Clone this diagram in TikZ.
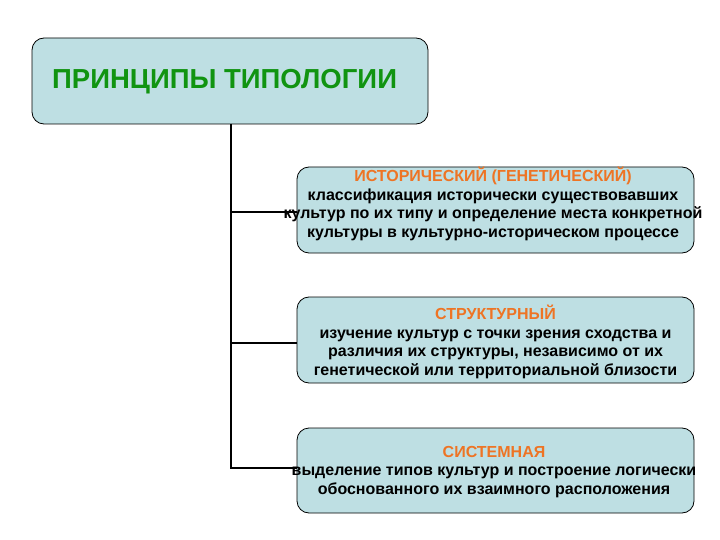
\documentclass[tikz,border=0pt]{standalone}
\usepackage{fontspec}
\setmainfont{Liberation Sans}
\definecolor{boxfill}{HTML}{BEDFE3}
\definecolor{titlegreen}{HTML}{119411}
\definecolor{headorange}{HTML}{EE7424}
\tikzset{
  box/.style={draw=black, line width=0.8pt, fill=boxfill, rounded corners=12pt, inner sep=0pt},
  body/.style={font=\bfseries\fontsize{16}{18.8}\selectfont, align=center, text=black, inner sep=0pt},
  conn/.style={draw=black, line width=2pt}
}
\begin{document}
\begin{tikzpicture}[x=1pt,y=-1pt]
\useasboundingbox (0,0) rectangle (720,540);
\node[box, minimum width=396pt, minimum height=86pt] (top) at (230,81) {};
\node[font=\bfseries\fontsize{27.5}{30}\selectfont, text=titlegreen, anchor=west, inner sep=0pt] (toptext) at (52,82) {ПРИНЦИПЫ ТИПОЛОГИИ};

\node[box, minimum width=397pt, minimum height=86pt] (b1) at (495.5,210) {};
\node[body] (t1) at (493,204) {\textcolor{headorange}{ИСТОРИЧЕСКИЙ (ГЕНЕТИЧЕСКИЙ)}\\классификация исторически существовавших\\культур по их типу и определение места конкретной\\культуры в культурно-историческом процессе};

\node[box, minimum width=397pt, minimum height=86pt] (b2) at (495.5,340) {};
\node[body] (t2) at (495.5,342) {\textcolor{headorange}{СТРУКТУРНЫЙ}\\изучение культур с точки зрения сходства и\\различия их структуры, независимо от их\\генетической или территориальной близости};

\node[box, minimum width=397pt, minimum height=85pt] (b3) at (495.5,470.5) {};
\node[body] (t3) at (494,472) {\textcolor{headorange}{СИСТЕМНАЯ}\\выделение типов культур и построение логически\\обоснованного их взаимного расположения};

\coordinate (trunk) at (231,124);
\draw[conn] (trunk) -- (231,468) -- (b3.west |- 0,468);
\draw[conn] (231,212) -- (b1.west |- 0,212);
\draw[conn] (231,343) -- (b2.west |- 0,343);
\end{tikzpicture}
\end{document}
